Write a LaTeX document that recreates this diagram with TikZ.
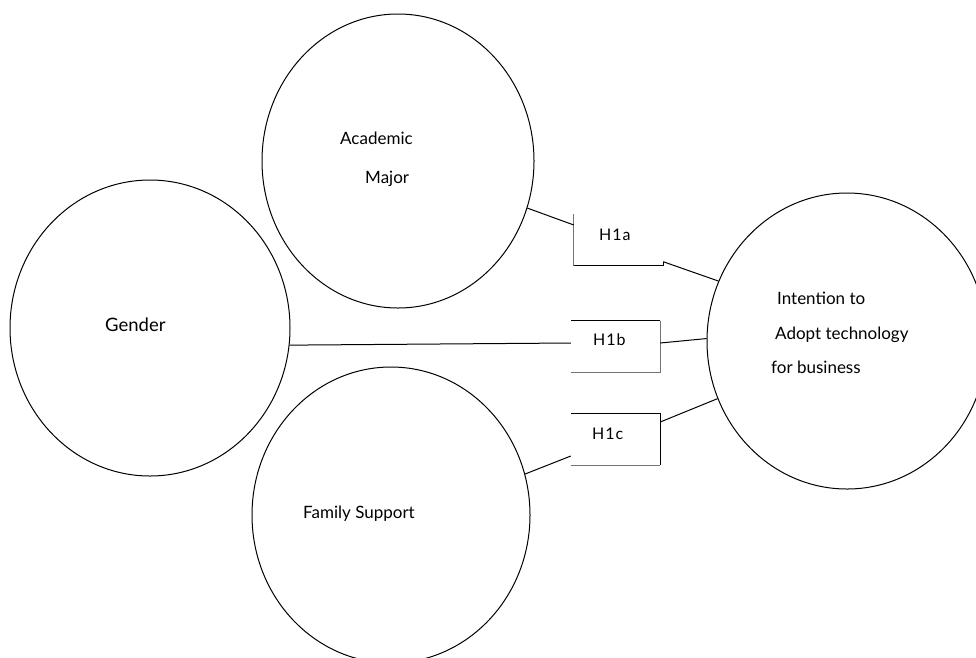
\documentclass[tikz,border=0pt]{standalone}
\usepackage{fontspec}
\setmainfont{Lato}
\usetikzlibrary{shapes.geometric, calc}

\begin{document}
\begin{tikzpicture}[
    x=1pt, y=-1pt,
    construct/.style={ellipse, draw, line width=1pt, inner sep=0pt},
    hypbox/.style={rectangle, inner sep=0pt, minimum width=89pt, minimum height=51pt},
    hyplabel/.style={anchor=base west, font=\fontsize{16}{18}\selectfont\addfontfeatures{LetterSpace=6}, inner sep=0pt},
    txt/.style={anchor=base west, font=\fontsize{17}{19}\selectfont, inner sep=0pt},
    link/.style={draw, line width=1pt},
    frame/.style={draw, line width=1pt},
    softframe/.style={draw, black!55, line width=1pt},
]
\useasboundingbox (0,0) rectangle (976,657);

% constructs
\node[construct, minimum width=272pt, minimum height=294pt] (acad) at (398,161) {};
\node[construct, minimum width=280pt, minimum height=296pt] (gender) at (150,328) {};
\node[construct, minimum width=278pt, minimum height=296pt] (family) at (391,515) {};
\node[construct, minimum width=280pt, minimum height=296pt] (intent) at (847,341) {};

% construct texts
\node[txt] (acadA) at (340,144) {Academic};
\node[txt] (acadB) at (365,183) {Major};
\node[txt, font=\fontsize{18.5}{20}\selectfont] (gendT) at (105,331) {Gender};
\node[txt] (famT) at (303,518) {Family Support};
\node[txt] (intA) at (777,304) {Intention to};
\node[txt] (intB) at (775,339) {Adopt technology};
\node[txt] (intC) at (771,373) {for business};

% hypothesis boxes
\node[hypbox] (h1a) at (618.5,240) {};
\node[hypbox] (h1b) at (615.5,346.5) {};
\node[hypbox] (h1c) at (615.5,439.5) {};
\node[hyplabel] (h1aT) at (599,240) {H1a};
\node[hyplabel] (h1bT) at (593,345) {H1b};
\node[hyplabel] (h1cT) at (592,439) {H1c};

% partial frames
\draw[softframe] (h1a.north west) -- (h1a.south west);
\draw[frame] (h1a.south west) -- (h1a.south east) -- ++(0,-4) coordinate (h1aTick);
\draw[frame] (h1b.north west) -- (h1b.north east);
\draw[softframe] (h1b.north east) -- (h1b.south east) -- (h1b.south west);
\draw[frame] (h1c.north west) -- (h1c.north east) -- (h1c.south east);
\draw[softframe] (h1c.south east) -- (h1c.south west);

% links
\draw[link] (acad.-20) -- ([yshift=15pt]h1a.west);
\draw[link] (h1aTick) -- (intent.155);
\draw[link] (gender.-7) -- ([yshift=3.5pt]h1b.west);
\draw[link] ([yshift=3.5pt]h1b.east) -- (intent.179);
\draw[link] (family.17.5) -- ([yshift=-16.5pt]h1c.west);
\draw[link] ([yshift=17.5pt]h1c.east) -- (intent.204);
\end{tikzpicture}
\end{document}
